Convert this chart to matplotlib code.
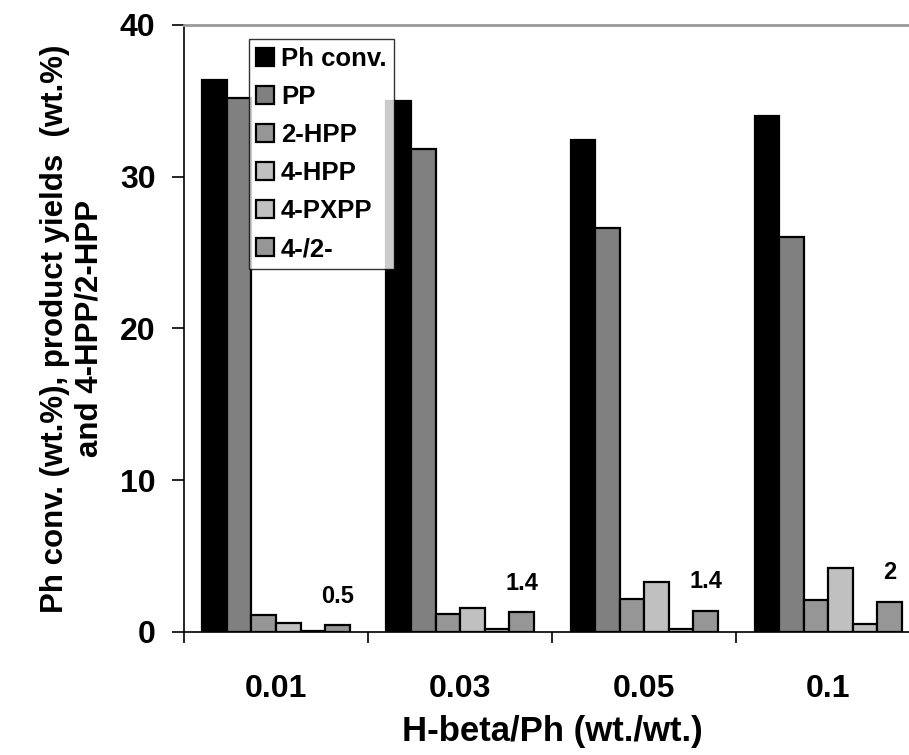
import numpy as np
import matplotlib.pyplot as plt
from matplotlib.ticker import FixedLocator

plt.rcParams['font.family'] = ['Liberation Sans', 'DejaVu Sans']
plt.rcParams['font.weight'] = 'bold'

# --- data ---
ratios = ["0.01", "0.03", "0.05", "0.1"]
series = ["Ph conv.", "PP", "2-HPP", "4-HPP", "4-PXPP", "4-/2-"]
ph_conv = [36.4, 35.0, 32.4, 34.0]
pp = [35.2, 31.8, 26.6, 26.0]
hpp2 = [1.1, 1.2, 2.2, 2.1]
hpp4 = [0.6, 1.6, 3.3, 4.2]
pxpp4 = [0.05, 0.2, 0.2, 0.5]
ratio_42 = [0.45, 1.3, 1.4, 2.0]
ratio_labels = ["0.5", "1.4", "1.4", "2"]

colors = ["#000000", "#808080", "#969696", "#c0c0c0", "#c0c0c0", "#969696"]
values = [ph_conv, pp, hpp2, hpp4, pxpp4, ratio_42]

fig = plt.figure(figsize=(9.09, 7.55), dpi=100)
ax = fig.add_axes([0.2024, 0.163, 0.81, 0.804])

x = np.arange(len(ratios))
n = len(series)
w = 0.8 / n
for i, (name, vals, c) in enumerate(zip(series, values, colors)):
    ax.bar(x - 0.4 + w * (i + 0.5), vals, width=w, color=c,
           edgecolor="black", linewidth=1.6, label=name)

# ratio labels above the 4-/2- bars
for xi, v, lab in zip(x, ratio_42, ratio_labels):
    ax.text(xi - 0.4 + w * 5.5, v + 1.9, lab, ha="center", va="center",
            fontsize=17, fontweight="bold")

ax.set_xlim(-0.5, len(ratios) - 0.5)
ax.set_ylim(0, 40)
ax.set_yticks([0, 10, 20, 30, 40])
ax.set_xticks(x)
ax.set_xticklabels(ratios)
ax.xaxis.set_minor_locator(FixedLocator(np.arange(-0.5, len(ratios), 1.0)))
ax.tick_params(axis="x", which="major", length=0, pad=30, labelsize=23)
ax.tick_params(axis="x", which="minor", length=8, width=1.2, direction="out")
ax.tick_params(axis="y", length=8.5, width=1.2, direction="out", pad=12, labelsize=23)
for lab in ax.get_xticklabels() + ax.get_yticklabels():
    lab.set_fontweight("bold")

ax.spines["right"].set_visible(False)
ax.spines["top"].set_color("#999999")
ax.spines["top"].set_linewidth(2)
ax.spines["left"].set_linewidth(1.2)
ax.spines["bottom"].set_linewidth(1.2)

ax.set_xlabel("H-beta/Ph (wt./wt.)", fontsize=25, fontweight="bold", labelpad=8)
ax.set_ylabel("Ph conv. (wt.%), product yields  (wt.%)\nand 4-HPP/2-HPP",
              fontsize=22.5, fontweight="bold", labelpad=11, linespacing=1.2)

leg = ax.legend(loc="upper left", bbox_to_anchor=(0.088, 0.977), fontsize=18.5,
                frameon=True, fancybox=False, edgecolor="black",
                handlelength=0.7, handleheight=0.7, handletextpad=0.25,
                labelspacing=0.55, borderpad=0.3, borderaxespad=0)
leg.get_frame().set_linewidth(1.0)
for t in leg.get_texts():
    t.set_fontweight("bold")

fig.savefig("out.png", dpi=100)
